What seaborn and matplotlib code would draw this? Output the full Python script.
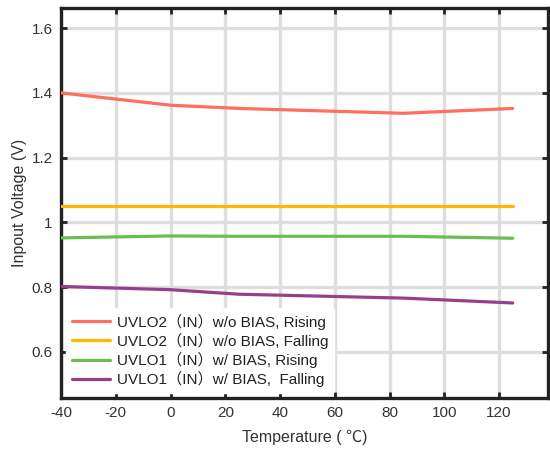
import numpy as np
import pandas as pd
import matplotlib
matplotlib.use("Agg")
import matplotlib.pyplot as plt
import seaborn as sns

temps = [-40, 0, 25, 85, 125]
uvlo2_rising = [1.400, 1.362, 1.352, 1.337, 1.352]
uvlo2_falling = [1.052, 1.052, 1.052, 1.052, 1.052]
uvlo1_rising = [0.952, 0.958, 0.957, 0.957, 0.951]
uvlo1_falling = [0.802, 0.792, 0.778, 0.766, 0.751]

labels = [
    "UVLO2（IN）w/o BIAS, Rising",
    "UVLO2（IN）w/o BIAS, Falling",
    "UVLO1（IN）w/ BIAS, Rising",
    "UVLO1（IN）w/ BIAS,  Falling",
]
colors = ["#FF6E5E", "#FFB700", "#67C04F", "#983F8C"]

series = [uvlo2_rising, uvlo2_falling, uvlo1_rising, uvlo1_falling]
df = pd.concat(
    [pd.DataFrame({"T": temps, "V": s, "curve": lab}) for s, lab in zip(series, labels)],
    ignore_index=True,
)

sns.set_theme(style="white")
plt.rcParams["font.family"] = ["Liberation Sans", "Noto Sans CJK SC", "DejaVu Sans"]
plt.rcParams["axes.unicode_minus"] = False

fig = plt.figure(figsize=(5.5, 4.5), dpi=100)
ax = fig.add_axes([0.111, 0.116, 0.885, 0.866])

sns.lineplot(data=df, x="T", y="V", hue="curve", palette=colors, hue_order=labels,
             linewidth=2.3, ax=ax, zorder=3)

ax.set_xlim(-40, 137.8)
ax.set_ylim(0.458, 1.662)
ax.set_xticks(np.arange(-40, 121, 20))
ax.set_yticks([0.6, 0.8, 1.0, 1.2, 1.4, 1.6])
ax.set_yticklabels(["0.6", "0.8", "1", "1.2", "1.4", "1.6"])

ax.grid(True, color="#DEDEDE", linewidth=2.4, zorder=0)
ax.set_axisbelow(True)
for sp in ax.spines.values():
    sp.set_linewidth(2.4)
    sp.set_color("#222222")
    sp.set_visible(True)

ax.tick_params(axis="both", direction="in", length=4, width=2, colors="#222222",
               labelcolor="#333333", labelsize=11, top=True, right=True,
               bottom=True, left=True, pad=6)

ax.set_xlabel("Temperature ( ℃)", fontsize=11.5, color="#333333", labelpad=7)
ax.set_ylabel("Inpout Voltage (V)", fontsize=11.5, color="#333333", labelpad=3)

leg = ax.legend(loc="lower left", frameon=True, fontsize=11, handlelength=2.5,
                handletextpad=0.45, labelspacing=0.2, borderaxespad=0.3,
                bbox_to_anchor=(0.0, 0.0))
leg.get_frame().set_facecolor("white")
leg.get_frame().set_edgecolor("white")
leg.get_frame().set_alpha(1.0)
leg.set_zorder(5)
for t in leg.get_texts():
    t.set_color("#222222")

fig.savefig("out.png", dpi=100)
